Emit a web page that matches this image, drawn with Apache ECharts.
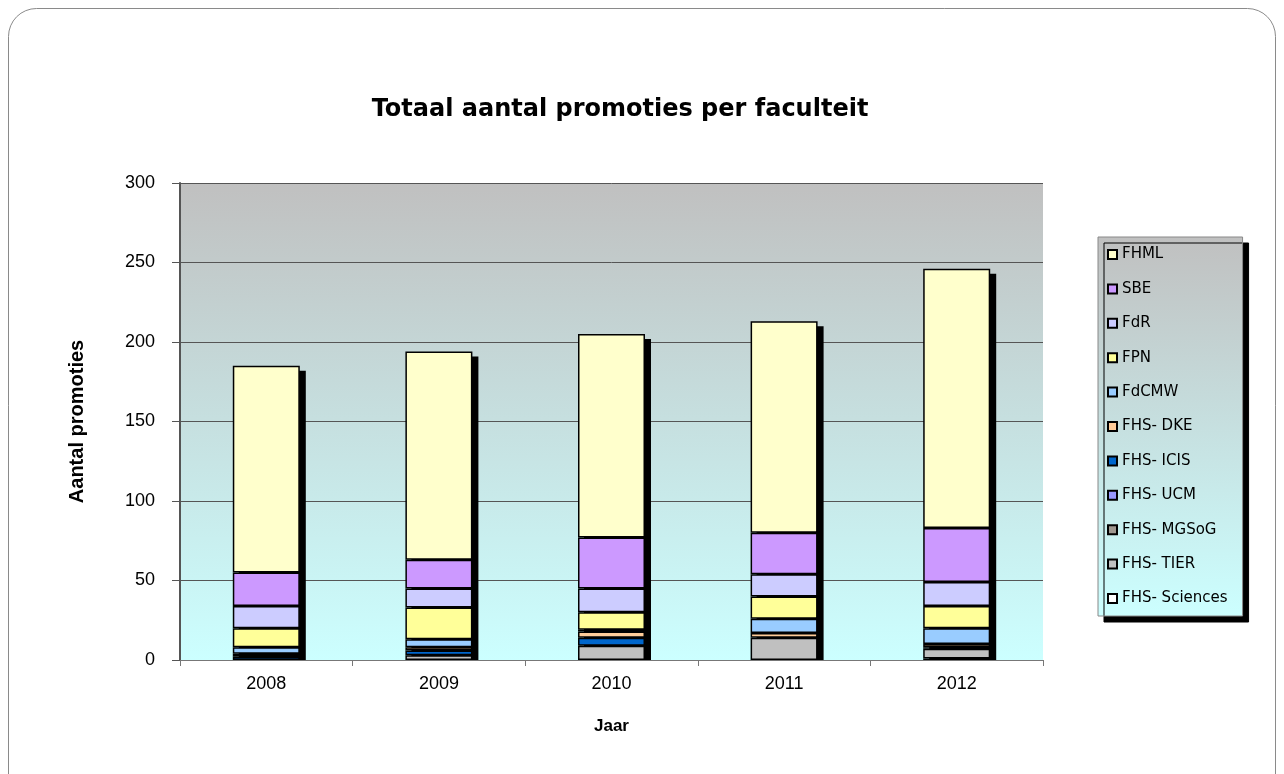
<!DOCTYPE html>
<html><head><meta charset="utf-8">
<script src="https://cdn.jsdelivr.net/npm/echarts@6/dist/echarts.min.js"></script>
<style>html,body{margin:0;padding:0;background:#fff}#c{width:1284px;height:774px}</style>
</head><body><div id="c"></div>
<script>
const years = ['2008','2009','2010','2011','2012'];
// bottom-to-top stacking order
const seriesNames = ['FHS- Sciences','FHS- TIER','FHS- MGSoG','FHS- UCM','FHS- ICIS','FHS- DKE','FdCMW','FPN','FdR','SBE','FHML'];
const fhsSciences = [0, 0, 0, 0, 1];
const fhsTier     = [0, 3, 9, 14, 6];
const fhsMgsog    = [0, 0, 0, 0, 0];
const fhsUcm      = [0, 0, 0, 0, 0];
const fhsIcis     = [2, 3, 5, 0, 1];
const fhsDke      = [2, 2, 4, 3, 2];
const fdcmw       = [4, 5, 1, 9, 10];
const fpn         = [12, 20, 11, 14, 14];
const fdr         = [14, 12, 15, 14, 15];
const sbe         = [21, 18, 32, 26, 34];
const fhml        = [130, 131, 128, 133, 163];
const yTicks = [0, 50, 100, 150, 200, 250, 300];
const seriesValues = [fhsSciences, fhsTier, fhsMgsog, fhsUcm, fhsIcis, fhsDke, fdcmw, fpn, fdr, sbe, fhml];
const seriesColors = ['#FFFFFF','#C0C0C0','#A09890','#9999FF','#0066CC','#FFCC99','#99CCFF','#FFFF99','#CCCCFF','#CC99FF','#FFFFCC'];

const totals = years.map((y, j) => seriesValues.reduce((s, arr) => s + arr[j], 0));
const BAR_W = 67;

const bgGrad = {type:'linear',x:0,y:0,x2:0,y2:1,colorStops:[{offset:0,color:'#C0C0C0'},{offset:1,color:'#CCFFFF'}]};

const chart = echarts.init(document.getElementById('c'), null, {renderer:'canvas'});
const series = seriesNames.map((n, i) => ({
  name: n,
  type: 'bar',
  stack: 'total',
  barWidth: BAR_W,
  z: 5,
  data: seriesValues[i].map(v => v === 0 ? null : v),
  itemStyle: {color: seriesColors[i], borderColor: '#000', borderWidth: 1.5},
  emphasis: {disabled: true}
}));
// drop shadow behind each stacked column
series.unshift({
  name: 'shadow',
  type: 'custom',
  z: 3,
  silent: true,
  data: years.map((y, j) => [j, totals[j]]),
  renderItem: function (params, api) {
    const top = api.coord([api.value(0), api.value(1)]);
    const base = api.coord([api.value(0), 0]);
    return {
      type: 'rect',
      shape: {x: top[0] - BAR_W / 2 + 6, y: top[1] + 5, width: BAR_W, height: base[1] - top[1] - 5},
      style: {fill: '#000'}
    };
  }
});

chart.setOption({
  animation: false,
  backgroundColor: 'transparent',
  graphic: [{
    type: 'rect', z: -10,
    shape: {x: 8.5, y: 8.5, width: 1267, height: 800, r: 28},
    style: {fill: '#fff', stroke: '#8a8a8a', lineWidth: 1}
  }],
  title: {
    text: 'Totaal aantal promoties per faculteit',
    left: 615, top: 93, textAlign: 'center',
    textStyle: {fontFamily: 'DejaVu Sans', fontWeight: 'bold', fontSize: 24, color: '#000'}
  },
  grid: {
    left: 180, top: 183, width: 863, height: 477,
    show: true, backgroundColor: bgGrad, borderWidth: 0
  },
  legend: {
    orient: 'vertical',
    left: 1098, top: 237,
    padding: [10, 15, 10, 9],
    itemGap: 19.4,
    itemWidth: 9, itemHeight: 9,
    icon: 'rect',
    data: seriesNames.slice().reverse(),
    backgroundColor: bgGrad,
    borderColor: '#888', borderWidth: 1,
    shadowColor: '#000', shadowBlur: 0, shadowOffsetX: 6, shadowOffsetY: 6,
    textStyle: {fontFamily: 'DejaVu Sans', fontSize: 15, lineHeight: 15, color: '#000'},
    selectedMode: false
  },
  xAxis: {
    type: 'category', data: years,
    name: 'Jaar', nameLocation: 'middle', nameGap: 58,
    nameTextStyle: {fontFamily: 'Liberation Sans', fontWeight: 'bold', fontSize: 17, color: '#000'},
    axisLine: {show: true, lineStyle: {color: '#777', width: 1}},
    axisTick: {show: true, inside: false, length: 6, lineStyle: {color: '#777'}},
    axisLabel: {fontFamily: 'Liberation Sans', fontSize: 18, color: '#000', margin: 15}
  },
  yAxis: {
    type: 'value', min: 0, max: 300, interval: 50,
    name: 'Aantal promoties', nameLocation: 'middle', nameGap: 93, nameRotate: 90,
    nameTextStyle: {fontFamily: 'Liberation Sans', fontWeight: 'bold', fontSize: 20, color: '#000'},
    axisLine: {show: true, lineStyle: {color: '#555', width: 2}},
    axisTick: {show: true, inside: false, length: 8, lineStyle: {color: '#555'}},
    axisLabel: {fontFamily: 'Liberation Sans', fontSize: 18, color: '#000', margin: 25,
      formatter: v => yTicks.includes(v) ? String(v) : ''},
    splitLine: {show: true, lineStyle: {color: '#555', width: 1}}
  },
  series: series
});
</script></body></html>
